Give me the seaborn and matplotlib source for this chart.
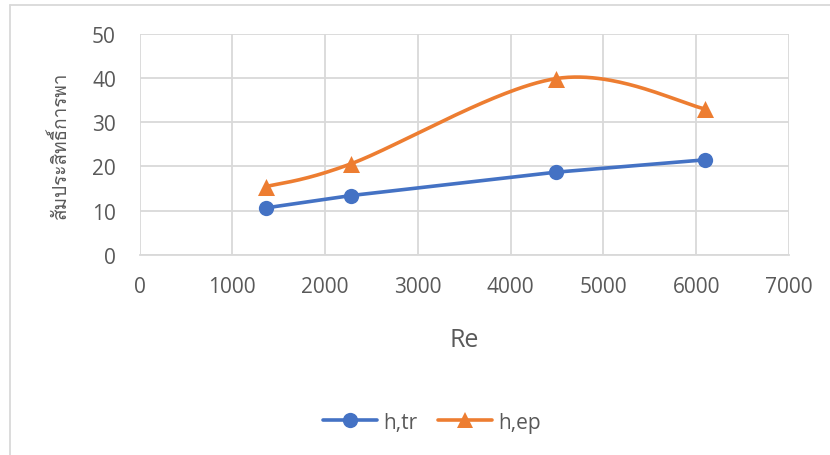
import numpy as np
import pandas as pd
import matplotlib
matplotlib.use("Agg")
import matplotlib.pyplot as plt
from matplotlib import font_manager
from matplotlib.ft2font import FT2Font
from matplotlib.lines import Line2D
import seaborn as sns

# Reynolds numbers and heat transfer coefficients for the two cases
reynolds = [1360, 2280, 4490, 6100]
h_tr = [10.6, 13.4, 18.7, 21.5]
h_ep = [15.4, 20.6, 39.9, 33.0]
series_names = ["h,tr", "h,ep"]
x_ticks = [0, 1000, 2000, 3000, 4000, 5000, 6000, 7000]
y_ticks = [0, 10, 20, 30, 40, 50]
x_title = "Re"
y_title = "สัมประสิทธิ์การพา"

BLUE = "#4472C4"
ORANGE = "#ED7D31"
TEXT = "#595959"
GRID = "#D9D9D9"

sns.set_theme(style="white")
base_family = "Open Sans"


def family_with(ch):
    """Return the first installed font family that has a glyph for ch."""
    for f in font_manager.fontManager.ttflist:
        try:
            if FT2Font(f.fname).get_char_index(ord(ch)):
                return f.name
        except Exception:
            continue
    return None


thai_family = family_with("ส")
label_families = [thai_family, base_family, "DejaVu Sans"] if thai_family else [base_family, "DejaVu Sans"]
plt.rcParams["font.family"] = [base_family, "DejaVu Sans"]


def smooth_curve(xs, ys, n=60):
    """Bezier smoothing through the points (Catmull-Rom style control points)."""
    pts = np.column_stack([xs, ys]).astype(float)
    out = []
    for i in range(len(pts) - 1):
        p0 = pts[max(i - 1, 0)]
        p1 = pts[i]
        p2 = pts[i + 1]
        p3 = pts[min(i + 2, len(pts) - 1)]
        c1 = p1 + (p2 - p0) / 6.0
        c2 = p2 - (p3 - p1) / 6.0
        t = np.linspace(0, 1, n)[:, None]
        seg = ((1 - t) ** 3) * p1 + 3 * ((1 - t) ** 2) * t * c1 + 3 * (1 - t) * t ** 2 * c2 + t ** 3 * p2
        out.append(seg if i == 0 else seg[1:])
    out = np.vstack(out)
    return out[:, 0], out[:, 1]


fig = plt.figure(figsize=(8.3, 4.56), dpi=100)
ax = fig.add_axes([139.5 / 830, 1 - 255.7 / 456, (789 - 139.5) / 830, (255.7 - 35) / 456])

points = pd.DataFrame({"Re": reynolds, "h_tr": h_tr, "h_ep": h_ep})

# h,tr: straight segments with round markers
sns.lineplot(data=points, x="Re", y="h_tr", ax=ax, color=BLUE, linewidth=2.6,
             marker="o", markersize=11, markeredgewidth=0, zorder=4)

# h,ep: smoothed curve with triangle markers
sx, sy = smooth_curve(reynolds, h_ep)
curve = pd.DataFrame({"Re": sx, "h": sy})
sns.lineplot(data=curve, x="Re", y="h", ax=ax, color=ORANGE, linewidth=2.6,
             sort=False, estimator=None, zorder=3)
sns.scatterplot(data=points, x="Re", y="h_ep", ax=ax, color=ORANGE, marker="^",
                s=150, linewidth=0, zorder=5)

ax.set_xlim(0, 7000)
ax.set_ylim(0, 50)
ax.set_xticks(x_ticks)
ax.set_yticks(y_ticks)
ax.set_xticklabels([str(v) for v in x_ticks])
ax.set_yticklabels([str(v) for v in y_ticks])
ax.tick_params(axis="both", length=0, labelsize=15, labelcolor=TEXT)
ax.tick_params(axis="x", pad=15)
ax.tick_params(axis="y", pad=17)

ax.grid(True, color=GRID, linewidth=1.3)
ax.set_axisbelow(True)
for side in ["top", "right", "left"]:
    ax.spines[side].set_visible(False)
ax.spines["bottom"].set_color(GRID)
ax.spines["bottom"].set_linewidth(1.3)

ax.set_xlabel(x_title, fontsize=18, color=TEXT, labelpad=22)
ax.set_ylabel(y_title, fontsize=13.6, color=TEXT, labelpad=16, family=label_families)

handles = [
    Line2D([], [], color=BLUE, linewidth=2.6, marker="o", markersize=11, markeredgewidth=0),
    Line2D([], [], color=ORANGE, linewidth=2.6, marker="^", markersize=11, markeredgewidth=0),
]
fig.legend(handles, series_names, loc="center", bbox_to_anchor=(432 / 830, 1 - 423 / 456),
           ncol=2, frameon=False, fontsize=15, labelcolor=TEXT, handlelength=2.6,
           handletextpad=0.3, columnspacing=1.0)

# chart area border (left and top edges visible)
fig.add_artist(Line2D([9.5 / 830, 9.5 / 830], [0, 1 - 5.5 / 456], color=GRID, linewidth=1.3,
                      transform=fig.transFigure))
fig.add_artist(Line2D([9.5 / 830, 1], [1 - 5.5 / 456, 1 - 5.5 / 456], color=GRID, linewidth=1.3,
                      transform=fig.transFigure))

fig.savefig("out.png", dpi=100, facecolor="white")
